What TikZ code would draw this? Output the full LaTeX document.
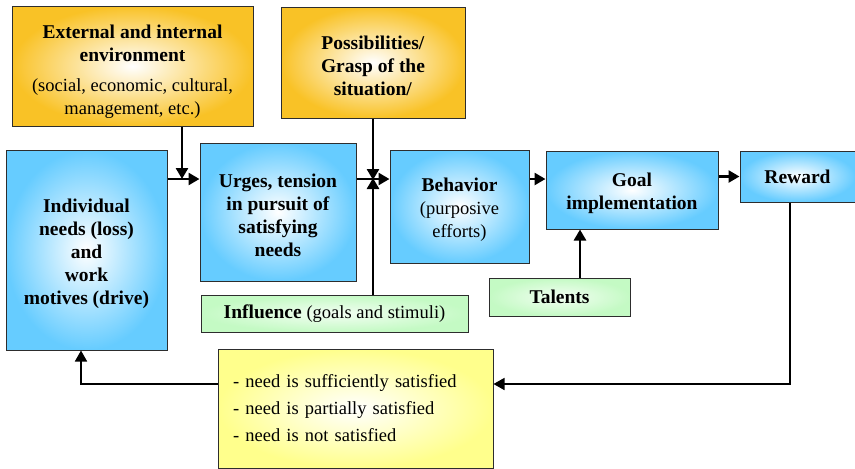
\documentclass[tikz,border=0pt]{standalone}
\usepackage{fontspec}
\setmainfont{Liberation Serif}
\usetikzlibrary{arrows.meta}
\definecolor{boxblue}{RGB}{102,204,255}
\definecolor{boxorange}{RGB}{249,194,38}
\definecolor{boxgreen}{RGB}{196,250,196}
\definecolor{boxyellow}{RGB}{255,255,140}
\definecolor{edge}{RGB}{45,45,45}
% raises the top of a text block so that it sits a little lower in its box
\newcommand{\toppad}[1]{\rule{0pt}{#1}}
\newcommand{\plain}{\fontsize{18.5}{22}\selectfont}
\begin{document}
\begin{tikzpicture}[x=1pt,y=-1pt,
  base/.style={draw=edge, line width=1pt, align=center, inner sep=0pt,
    font=\fontsize{19.5}{23}\selectfont},
  bluebox/.style={base, inner color=white, outer color=boxblue},
  orangebox/.style={base, inner color=white, outer color=boxorange},
  greenbox/.style={base, inner color=white!80!boxgreen, outer color=boxgreen},
  yellowbox/.style={base, inner color=white, outer color=boxyellow},
  size/.style 2 args={minimum width=#1, minimum height=#2},
  flow/.style={line width=2.6pt, -{Triangle[length=11pt,width=12pt]}},
  back/.style={line width=1.6pt, -{Triangle[length=11pt,width=12pt]}},
]
\useasboundingbox (0,0) rectangle (855,469);

% top row: surroundings
\node[orangebox, size={241}{120}] (env) at (132.5,66)
  {\toppad{24pt}\textbf{External and internal}\\ \textbf{environment}\\[7pt]
   {\plain (social, economic, cultural,}\\
   {\plain management, etc.)}};
\node[orangebox, size={184}{111}] (poss) at (373,62.5)
  {\toppad{20pt}\textbf{Possibilities/}\\ \textbf{Grasp of the}\\ \textbf{situation/}};

% main chain
\node[bluebox, size={161}{200}] (ind) at (86.5,250)
  {\toppad{22pt}\textbf{Individual}\\ \textbf{needs (loss)}\\ \textbf{and}\\ \textbf{work}\\ \textbf{motives (drive)}};
\node[bluebox, size={156}{138}] (urg) at (278,212)
  {\toppad{20pt}\textbf{Urges, tension}\\ \textbf{in pursuit of}\\ \textbf{satisfying}\\ \textbf{needs}};
\node[bluebox, size={139}{113}] (beh) at (459.5,206.5)
  {\toppad{19pt}\textbf{Behavior}\\ {\plain (purposive}\\ {\plain efforts)}};
\node[bluebox, size={172}{78}] (goal) at (632,190)
  {\toppad{20pt}\textbf{Goal}\\ \textbf{implementation}};
\node[bluebox, size={115}{51}] (rew) at (797.5,176.5) {\textbf{Reward}};

% side inputs
\node[greenbox, size={267}{37}] (inf) at (334.5,313.5)
  {\textbf{Influence} {\plain (goals and stimuli)}};
\node[greenbox, size={141}{38}] (tal) at (559.5,297) {\textbf{Talents}};

% outcome of the cycle
\node[yellowbox, size={275}{119}, align=left, text width=245pt, inner xsep=15pt,
  font=\fontsize{18.5}{27}\selectfont] (out) at (355.5,408.5)
  {- need is sufficiently satisfied\\ - need is partially satisfied\\ - need is not satisfied};

% junctions and bends
\coordinate (j1) at (182,179);
\coordinate (j2) at (373,179);
\coordinate (tx) at (580,250);
\coordinate (r1) at (790,384);
\coordinate (f1) at (81,384);

\draw[flow] (j1 -| ind.east) -- (j1 -| urg.west);
\draw[flow] (env.south -| j1) -- (j1);
\draw[flow] (j2 -| urg.east) -- (j2 -| beh.west);
\draw[flow] (poss.south) -- ([yshift=-1pt]j2);
\draw[flow] (inf.north -| j2) -- ([yshift=1pt]j2);
\draw[flow] (j2 -| beh.east) -- (j2 -| goal.west);
\draw[flow] (rew.west -| goal.east) -- (rew.west);
\draw[flow] (tal.north -| tx) -- (goal.south -| tx);
\draw[back] (rew.south -| r1) -- (r1) -- (r1 -| out.east);
\draw[back] (out.west |- f1) -- (f1) -- (f1 |- ind.south);
\end{tikzpicture}
\end{document}
